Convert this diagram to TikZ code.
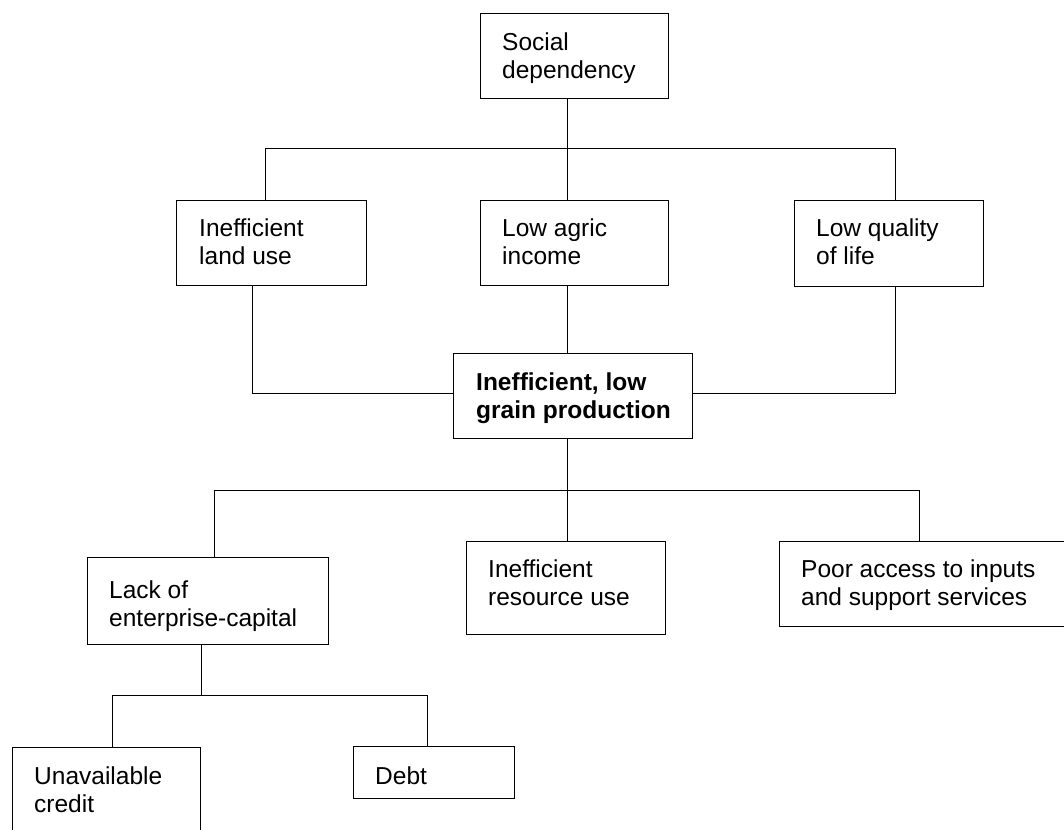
\documentclass[tikz,border=0pt]{standalone}
\usepackage{fontspec}
\setmainfont{Liberation Sans}
\usepackage{tikz}
\usetikzlibrary{positioning}

\begin{document}
\begin{tikzpicture}[x=1pt, y=-1pt,
    box/.style={draw, line width=1.3pt, anchor=north west, inner sep=0pt},
    txt/.style={anchor=north west, inner sep=0pt, align=left,
      font=\fontsize{24.5}{28}\selectfont},
    txtb/.style={txt, font=\fontsize{24.5}{28}\selectfont\bfseries},
    link/.style={line width=1pt}]
  \useasboundingbox[fill=white] (0,0) rectangle (1064,829);

  % Top level
  \node[box, minimum width=188, minimum height=85] (soc) at (480,13) {};
  \node[txt] (soc-t) at ([shift={(22,20)}]soc.north west) {Social\\dependency};

  % Effects
  \node[box, minimum width=190, minimum height=85] (land) at (176,200) {};
  \node[box, minimum width=188, minimum height=85] (low) at (480,200) {};
  \node[box, minimum width=189, minimum height=86] (qual) at (794,200) {};
  \node[txt] (land-t) at ([shift={(23,19)}]land.north west) {Inefficient\\land use};
  \node[txt] (low-t) at ([shift={(22,19)}]low.north west) {Low agric\\income};
  \node[txt] (qual-t) at ([shift={(22,19)}]qual.north west) {Low quality\\of life};

  % Core problem
  \node[box, minimum width=239, minimum height=85] (grain) at (453,353) {};
  \node[txtb] (grain-t) at ([shift={(23,20)}]grain.north west) {Inefficient, low\\grain production};

  % Causes
  \node[box, minimum width=241, minimum height=87] (lack) at (87,557) {};
  \node[box, minimum width=199, minimum height=93] (res) at (466,541) {};
  \node[box, minimum width=300, minimum height=85] (poor) at (779,541) {};
  \node[txt] (lack-t) at ([shift={(22,24)}]lack.north west) {Lack of\\enterprise-capital};
  \node[txt] (res-t) at ([shift={(22,19)}]res.north west) {Inefficient\\resource use};
  \node[txt] (poor-t) at ([shift={(22,19)}]poor.north west) {Poor access to inputs\\and support services};

  % Sub-causes
  \node[box, minimum width=188, minimum height=100] (unav) at (12,747) {};
  \node[box, minimum width=161, minimum height=52] (debt) at (353,746) {};
  \node[txt] (unav-t) at ([shift={(22,20)}]unav.north west) {Unavailable\\credit};
  \node[txt] (debt-t) at ([shift={(22,21)}]debt.north west) {Debt};

  % Junctions
  \coordinate (j1) at (567,149);
  \coordinate (j1l) at (265,149);
  \coordinate (j1r) at (895,149);
  \coordinate (j2l) at (252,393);
  \coordinate (j2r) at (895,393);
  \coordinate (j3) at (567,490);
  \coordinate (j3l) at (214,490);
  \coordinate (j3r) at (919,490);
  \coordinate (j4) at (201,695);
  \coordinate (j4l) at (112,695);
  \coordinate (j4r) at (427,695);

  % Connectors
  \draw[link] (soc.south -| j1) -- (low.north -| j1);
  \draw[link] (land.north -| j1l) -- (j1l) -- (j1r) -- (qual.north -| j1r);
  \draw[link] (low.south -| j1) -- (grain.north -| j1);
  \draw[link] (land.south -| j2l) -- (j2l) -- (grain.west |- j2l);
  \draw[link] (qual.south -| j2r) -- (j2r) -- (grain.east |- j2r);
  \draw[link] (grain.south -| j3) -- (res.north -| j3);
  \draw[link] (lack.north -| j3l) -- (j3l) -- (j3r) -- (poor.north -| j3r);
  \draw[link] (lack.south -| j4) -- (j4);
  \draw[link] (unav.north -| j4l) -- (j4l) -- (j4r) -- (debt.north -| j4r);
\end{tikzpicture}
\end{document}
